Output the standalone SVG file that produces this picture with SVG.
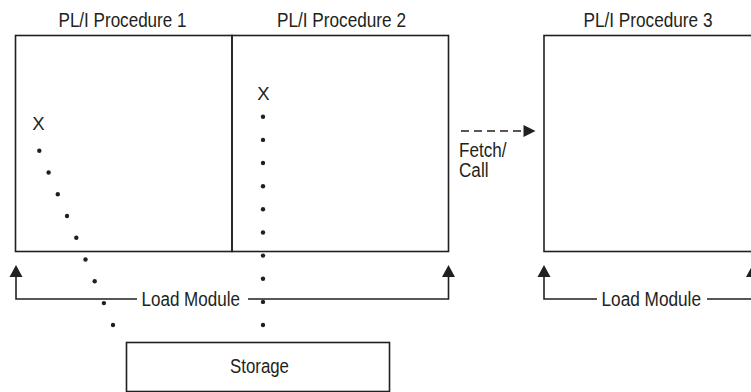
<svg xmlns="http://www.w3.org/2000/svg" width="751" height="392" viewBox="0 0 751 392">
<style>
.box{fill:none;stroke:#231f20;stroke-width:1.6}
.ln{fill:none;stroke:#231f20;stroke-width:1.6}
.t{font-family:"Liberation Sans",Arial,sans-serif;font-size:19.5px;fill:#231f20}
.x{font-size:18.5px}
.c{text-anchor:middle}
.dot{fill:#231f20}
.ah{fill:#231f20}
</style>
<rect width="751" height="392" fill="#fff"/>
<g id="proc1">
<rect class="box" x="15.5" y="35.5" width="216.5" height="216"/>
<text class="t" x="58.5" y="27" textLength="128" lengthAdjust="spacingAndGlyphs">PL/I Procedure 1</text>
<text class="t x c" x="38.5" y="130">X</text>
</g>
<g id="proc2">
<rect class="box" x="232" y="35.5" width="216.5" height="216"/>
<text class="t" x="277" y="27" textLength="129" lengthAdjust="spacingAndGlyphs">PL/I Procedure 2</text>
<text class="t x c" x="263.5" y="100">X</text>
</g>
<g id="proc3">
<rect class="box" x="544" y="35.5" width="230" height="216"/>
<text class="t" x="583.5" y="27" textLength="129" lengthAdjust="spacingAndGlyphs">PL/I Procedure 3</text>
</g>
<g id="storage">
<rect class="box" x="126.5" y="342.5" width="263" height="49"/>
<text class="t" x="230" y="373" textLength="59" lengthAdjust="spacingAndGlyphs">Storage</text>
</g>
<g id="dots1">
<circle class="dot" cx="39.3" cy="150.7" r="2.2"/>
<circle class="dot" cx="48.6" cy="172.5" r="2.2"/>
<circle class="dot" cx="57.8" cy="194.3" r="2.2"/>
<circle class="dot" cx="67" cy="216" r="2.2"/>
<circle class="dot" cx="76.3" cy="237.8" r="2.2"/>
<circle class="dot" cx="85.5" cy="259.5" r="2.2"/>
<circle class="dot" cx="94.7" cy="281.3" r="2.2"/>
<circle class="dot" cx="103.9" cy="303.1" r="2.2"/>
<circle class="dot" cx="113" cy="325" r="2.2"/>
</g>
<g id="dots2">
<circle class="dot" cx="263" cy="116.7" r="2.2"/>
<circle class="dot" cx="263" cy="139.9" r="2.2"/>
<circle class="dot" cx="263" cy="163" r="2.2"/>
<circle class="dot" cx="263" cy="186.2" r="2.2"/>
<circle class="dot" cx="263" cy="209.3" r="2.2"/>
<circle class="dot" cx="263" cy="232.5" r="2.2"/>
<circle class="dot" cx="263" cy="255.6" r="2.2"/>
<circle class="dot" cx="263" cy="278.8" r="2.2"/>
<circle class="dot" cx="263" cy="301.9" r="2.2"/>
<circle class="dot" cx="263" cy="325" r="2.2"/>
</g>
<g id="connectors">
<polyline class="ln" points="16,276 16,299 137,299"/>
<polygon class="ah" points="16,265 9.5,277 22.5,277"/>
<polyline class="ln" points="248,299 448.5,299 448.5,276"/>
<polygon class="ah" points="448.5,265 442,277 455,277"/>
<text class="t" x="141.5" y="306" textLength="98.5" lengthAdjust="spacingAndGlyphs">Load Module</text>
<polyline class="ln" points="544,276 544,299 597,299"/>
<polygon class="ah" points="544,265 537.5,277 550.5,277"/>
<polyline class="ln" points="707,299 752.5,299 752.5,276"/>
<polygon class="ah" points="752.5,265 746,277 759,277"/>
<text class="t" x="601.5" y="306" textLength="99.5" lengthAdjust="spacingAndGlyphs">Load Module</text>
<line class="ln" x1="461" y1="131" x2="524" y2="131" stroke-dasharray="8,5"/>
<polygon class="ah" points="535.5,131 523.5,125 523.5,137"/>
<text class="t" x="459" y="157" textLength="47.5" lengthAdjust="spacingAndGlyphs">Fetch/</text>
<text class="t" x="459" y="177" textLength="29.5" lengthAdjust="spacingAndGlyphs">Call</text>
</g>
</svg>
